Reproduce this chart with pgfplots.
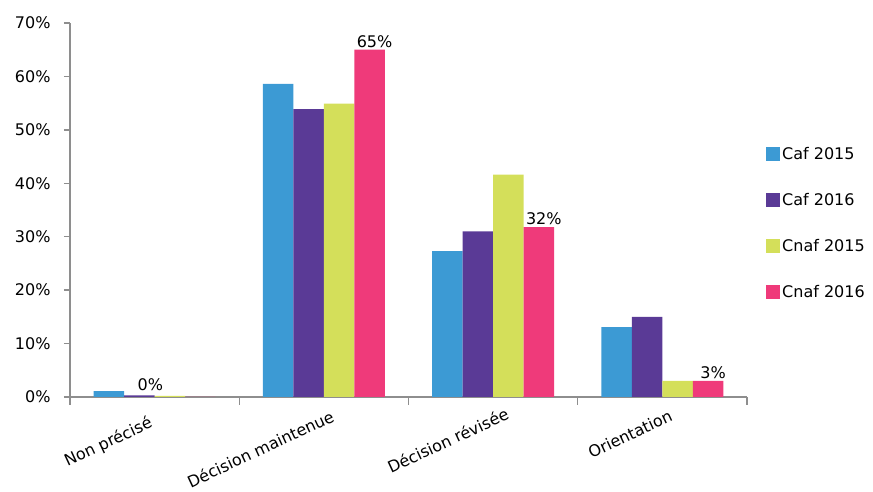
\documentclass[border=0pt]{standalone}
\usepackage{pgfplots}
\pgfplotsset{compat=1.18}
\usepackage{fontspec}
\setmainfont{DejaVu Sans}
\definecolor{cblue}{HTML}{3C9AD4}
\definecolor{cpurple}{HTML}{5A3A96}
\definecolor{cyellow}{HTML}{D4DF5A}
\definecolor{cpink}{HTML}{EF3A7A}
\definecolor{axgray}{HTML}{8E8E8E}
\newcommand{\cf}{\fontsize{16}{18}\selectfont}
\begin{document}
\cf
\begin{tikzpicture}
\useasboundingbox (-70pt,-95pt) rectangle (803pt,397pt);
\begin{axis}[
  scale only axis,
  width=677pt, height=374pt,
  ybar=0pt, bar width=0.18,
  xmin=-0.5, xmax=3.5,
  ymin=0, ymax=70,
  axis lines=left,
  axis line style={draw=axgray, line width=1.6pt, -},
  every tick/.style={draw=axgray, line width=1.4pt},
  tick align=outside,
  major tick length=6pt,
  ytick={0,10,...,70},
  yticklabel={\pgfmathprintnumber{\tick}\%},
  /pgf/number format/assume math mode=true,
  yticklabel style={font=\cf, xshift=-8pt},
  xtick={0,1,2,3},
  xticklabels={{Non précisé\hspace*{14pt}}, Décision maintenue, {Décision révisée\hspace*{-6pt}}, Orientation},
  x tick style={draw=none},
  minor xtick={-0.5,0.5,1.5,2.5,3.5},
  minor tick length=8pt,
  minor x tick style={draw=axgray, line width=1.4pt},
  xticklabel style={font=\cf, rotate=25, anchor=north east, inner sep=1pt, yshift=-7pt, xshift=4pt},
  legend style={draw=none, fill=none, at={(1,0.463)}, anchor=west, xshift=16pt,
    font=\cf, row sep=27.5pt, cells={anchor=west}},
  legend image code/.code={\fill[#1, draw=none] (0pt,-6pt) rectangle (14pt,8pt);},
  clip=false,
]
\addplot[fill=cblue, draw=none] coordinates {(0,1.1) (1,58.6) (2,27.3) (3,13.1)};
\addplot[fill=cpurple, draw=none] coordinates {(0,0.3) (1,53.9) (2,31.0) (3,15.0)};
\addplot[fill=cyellow, draw=none] coordinates {(0,0.2) (1,54.9) (2,41.6) (3,3.0)};
\addplot[fill=cpink, draw=none,
  nodes near coords={\pgfmathprintnumber[fixed,precision=0]{\pgfplotspointmeta}\%},
  nodes near coords style={font=\cf, text=black, xshift=5pt, inner sep=2pt},
  coordinate style/.condition={x==0}{xshift=-55pt, yshift=4pt},
] coordinates {(0,0.0) (1,65.0) (2,31.8) (3,3.0)};
\legend{Caf 2015, Caf 2016, Cnaf 2015, Cnaf 2016}
\end{axis}
\end{tikzpicture}
\end{document}
